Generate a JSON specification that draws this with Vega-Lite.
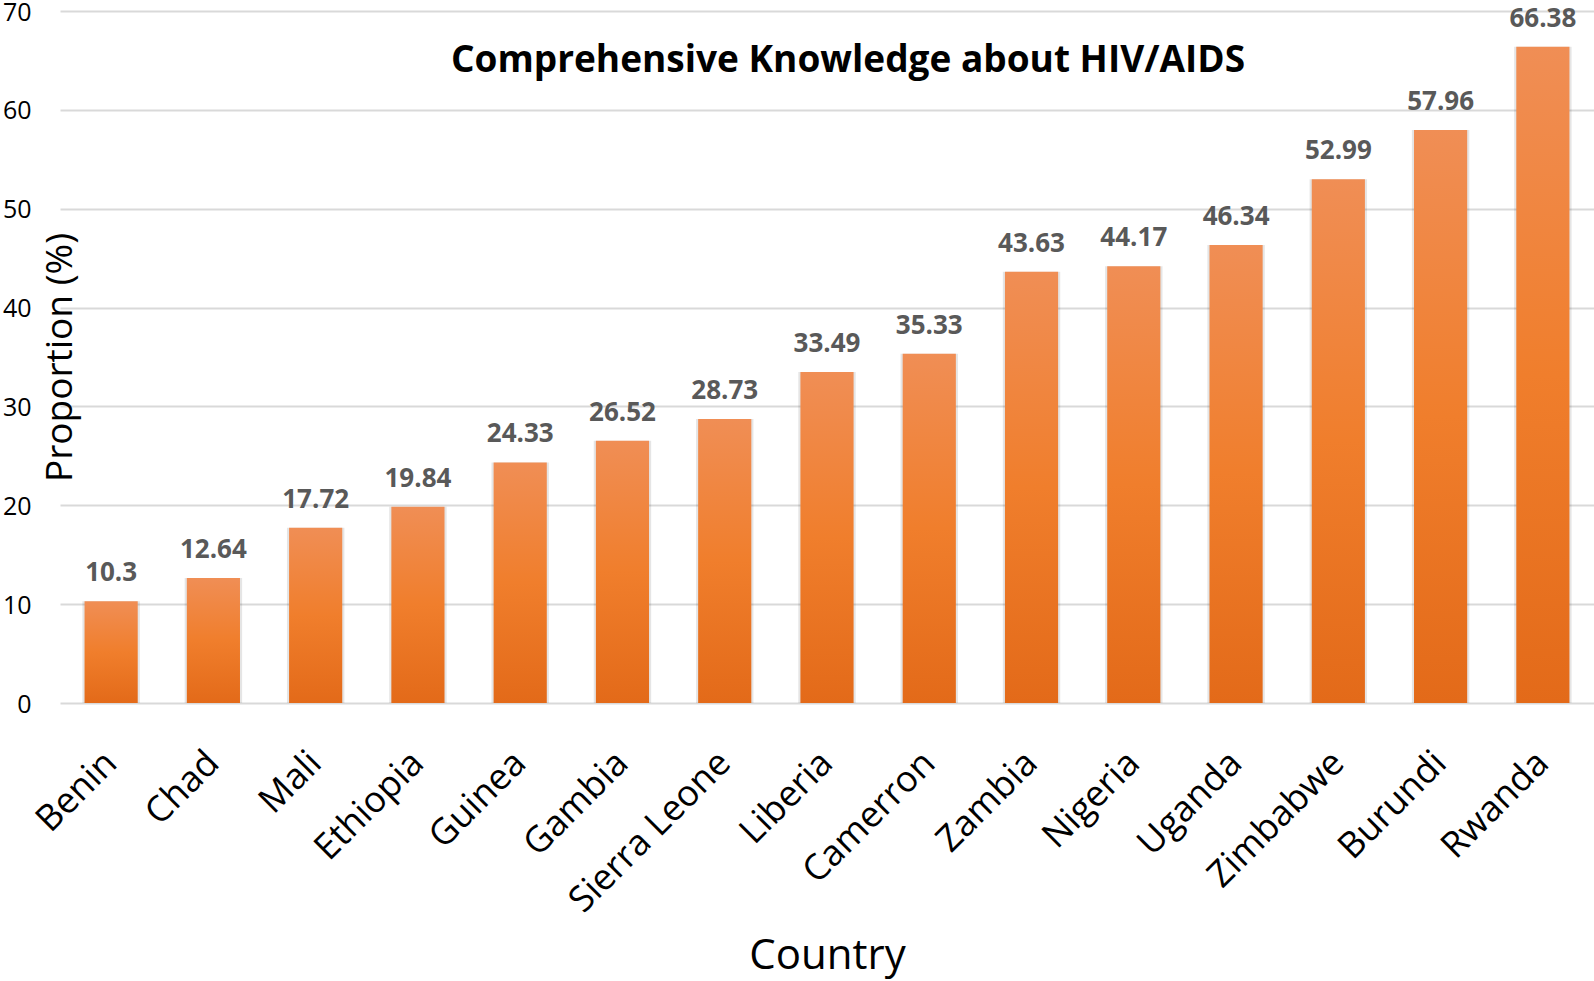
{
  "$schema": "https://vega.github.io/schema/vega-lite/v6.json",
  "width": 1534,
  "height": 692,
  "autosize": {"type": "none"},
  "padding": {"left": 60, "top": 11, "right": 0, "bottom": 278},
  "background": "white",
  "config": {"view": {"stroke": null}, "font": "Open Sans"},
  "title": {
    "text": "Comprehensive Knowledge about HIV/AIDS",
    "font": "Open Sans",
    "fontSize": 37,
    "fontWeight": "bold",
    "color": "#000000",
    "anchor": "middle",
    "baseline": "alphabetic",
    "offset": -109,
    "dx": 21
  },
  "data": {
    "values": [
      {"country": "Benin", "value": 10.3},
      {"country": "Chad", "value": 12.64},
      {"country": "Mali", "value": 17.72},
      {"country": "Ethiopia", "value": 19.84},
      {"country": "Guinea", "value": 24.33},
      {"country": "Gambia", "value": 26.52},
      {"country": "Sierra Leone", "value": 28.73},
      {"country": "Liberia", "value": 33.49},
      {"country": "Camerron", "value": 35.33},
      {"country": "Zambia", "value": 43.63},
      {"country": "Nigeria", "value": 44.17},
      {"country": "Uganda", "value": 46.34},
      {"country": "Zimbabwe", "value": 52.99},
      {"country": "Burundi", "value": 57.96},
      {"country": "Rwanda", "value": 66.38}
    ]
  },
  "encoding": {
    "x": {
      "field": "country",
      "type": "nominal",
      "sort": null,
      "scale": {"paddingInner": 0.48, "paddingOuter": 0.24},
      "axis": {
        "title": "Country",
        "titleFont": "Open Sans",
        "titleFontSize": 42,
        "titleFontWeight": "normal",
        "titleColor": "#000000",
        "titleBaseline": "alphabetic",
        "titleY": 265,
        "labelAngle": -45,
        "labelAlign": "right",
        "labelBaseline": "middle",
        "labelFont": "Open Sans",
        "labelFontSize": 36,
        "labelColor": "#000000",
        "labelPadding": 54,
        "labelLimit": 0,
        "ticks": false,
        "domain": false
      }
    },
    "y": {
      "field": "value",
      "type": "quantitative",
      "scale": {"domain": [0, 70], "nice": false},
      "axis": {
        "values": [0, 10, 20, 30, 40, 50, 60, 70],
        "title": "Proportion (%)",
        "titleFont": "Open Sans",
        "titleFontSize": 37,
        "titleFontWeight": "normal",
        "titleColor": "#000000",
        "titleAngle": -90,
        "titleAlign": "center",
        "titleBaseline": "alphabetic",
        "titleX": 11,
        "titleY": 346,
        "labelFont": "Open Sans",
        "labelFontSize": 25,
        "labelColor": "#000000",
        "labelPadding": 29,
        "labelBaseline": "middle",
        "labelOffset": 1,
        "ticks": false,
        "domain": false,
        "grid": true,
        "gridColor": "#d9d9d9",
        "gridWidth": 2
      }
    }
  },
  "layer": [
    {
      "mark": {"type": "bar", "color": "#000000", "opacity": 0.1, "width": {"band": 1.08}},
      "encoding": {}
    },
    {
      "mark": {
        "type": "bar",
        "color": {
          "gradient": "linear",
          "x1": 0, "y1": 0, "x2": 0, "y2": 1,
          "stops": [
            {"offset": 0, "color": "#F08E55"},
            {"offset": 0.5, "color": "#F07E2C"},
            {"offset": 1, "color": "#E36A19"}
          ]
        }
      },
      "encoding": {}
    },
    {
      "mark": {
        "type": "text",
        "font": "Open Sans",
        "fontSize": 26,
        "fontWeight": "bold",
        "color": "#595959",
        "baseline": "alphabetic",
        "dy": -20
      },
      "encoding": {"text": {"field": "value", "type": "quantitative"}}
    }
  ]
}
